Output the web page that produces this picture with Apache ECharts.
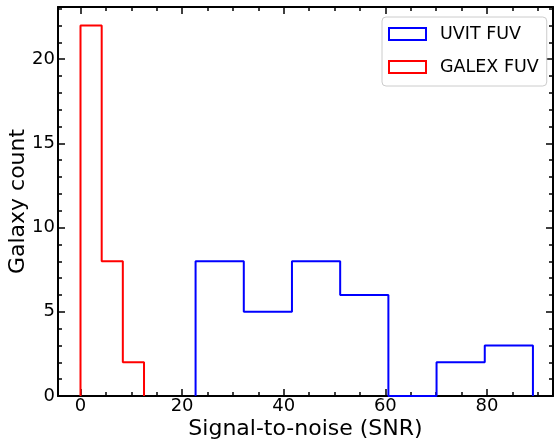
<!DOCTYPE html>
<html><head><meta charset="utf-8">
<script src="https://cdn.jsdelivr.net/npm/echarts@6/dist/echarts.min.js"></script>
<style>html,body{margin:0;padding:0;background:#fff}#c{width:555px;height:444px}</style>
</head><body><div id="c"></div>
<script>
// ---- data ----
const seriesNames = ['UVIT FUV', 'GALEX FUV'];
const uvitEdges = [22.65, 32.14, 41.62, 51.11, 60.60, 70.08, 79.57, 89.05];
const uvitCounts = [8, 5, 8, 6, 0, 2, 3];
const galexEdges = [0, 4.17, 8.33, 12.5];
const galexCounts = [22, 8, 2];
const xMajorTicks = [0, 20, 40, 60, 80];
const xMinorTicks = [0, 5, 10, 15, 20, 25, 30, 35, 40, 45, 50, 55, 60, 65, 70, 75, 80, 85, 90];
const yMajorTicks = [0, 5, 10, 15, 20];
const yMinorTicks = [0,1,2,3,4,5,6,7,8,9,10,11,12,13,14,15,16,17,18,19,20,21,22,23];
const xTitle = 'Signal-to-noise (SNR)';
const yTitle = 'Galaxy count';

// ---- helpers ----
function stepPoints(edges, counts) {
  const pts = [[edges[0], 0]];
  for (let i = 0; i < counts.length; i++) {
    pts.push([edges[i], counts[i]]);
    pts.push([edges[i + 1], counts[i]]);
  }
  pts.push([edges[edges.length - 1], 0]);
  return pts;
}
const FONT = 'DejaVu Sans';
const XMIN = -4.43, XMAX = 93.0, YMIN = 0, YMAX = 23.1;
const lineOn = { show: true, onZero: false, lineStyle: { color: '#000', width: 2 } };
const lineOff = { show: false, onZero: false };

function xAx(pos, ticks, len, major, withLine) {
  return {
    type: 'value', position: pos, min: XMIN, max: XMAX,
    axisLine: withLine ? lineOn : lineOff,
    axisTick: { show: true, inside: true, length: len, customValues: ticks, lineStyle: { color: '#000', width: 1.5 } },
    axisLabel: major && pos === 'bottom'
      ? { show: true, customValues: ticks, fontSize: 18, fontFamily: FONT, color: '#000', margin: 1 }
      : { show: false },
    splitLine: { show: false },
    name: major && pos === 'bottom' ? xTitle : '',
    nameLocation: 'middle', nameGap: 22, nameMoveOverlap: false,
    nameTextStyle: { fontSize: 22, fontFamily: FONT, color: '#000' }
  };
}
function yAx(pos, ticks, len, major, withLine) {
  return {
    type: 'value', position: pos, min: YMIN, max: YMAX,
    axisLine: withLine ? lineOn : lineOff,
    axisTick: { show: true, inside: true, length: len, customValues: ticks, lineStyle: { color: '#000', width: 1.5 } },
    axisLabel: major && pos === 'left'
      ? { show: true, customValues: ticks, fontSize: 18, fontFamily: FONT, color: '#000', margin: 3 }
      : { show: false },
    splitLine: { show: false },
    name: major && pos === 'left' ? yTitle : '',
    nameLocation: 'middle', nameGap: 29, nameRotate: 90, nameMoveOverlap: false,
    nameTextStyle: { fontSize: 22, fontFamily: FONT, color: '#000' }
  };
}

const chart = echarts.init(document.getElementById('c'), null, { renderer: 'canvas' });
chart.setOption({
  animation: false,
  backgroundColor: '#fff',
  grid: { left: 58, right: 2, top: 7, bottom: 48, containLabel: false, outerBoundsMode: 'none' },
  xAxis: [
    xAx('bottom', xMajorTicks, 7, true, true),
    xAx('bottom', xMinorTicks, 4, false, false),
    xAx('top', xMajorTicks, 7, true, true),
    xAx('top', xMinorTicks, 4, false, false)
  ],
  yAxis: [
    yAx('left', yMajorTicks, 7, true, true),
    yAx('left', yMinorTicks, 4, false, false),
    yAx('right', yMajorTicks, 7, true, true),
    yAx('right', yMinorTicks, 4, false, false)
  ],
  legend: {
    orient: 'vertical', left: 382, top: 17,
    icon: 'rect', itemWidth: 37, itemHeight: 12, itemGap: 15,
    padding: [8, 8, 10, 6],
    backgroundColor: 'rgba(255,255,255,0.8)', borderColor: '#cccccc', borderWidth: 1, borderRadius: 4,
    textStyle: { fontSize: 17.5, fontFamily: FONT, color: '#000', lineHeight: 12, padding: [0, 0, 0, 9] },
    data: [
      { name: seriesNames[0], itemStyle: { color: '#ffffff', borderColor: '#0000ff', borderWidth: 2 } },
      { name: seriesNames[1], itemStyle: { color: '#ffffff', borderColor: '#ff0000', borderWidth: 2 } }
    ]
  },
  series: [
    {
      name: seriesNames[0], type: 'line', xAxisIndex: 0, yAxisIndex: 0,
      data: stepPoints(uvitEdges, uvitCounts), showSymbol: false, symbol: 'none',
      lineStyle: { color: '#0000ff', width: 2 }, itemStyle: { color: '#0000ff' }, clip: false
    },
    {
      name: seriesNames[1], type: 'line', xAxisIndex: 0, yAxisIndex: 0,
      data: stepPoints(galexEdges, galexCounts), showSymbol: false, symbol: 'none',
      lineStyle: { color: '#ff0000', width: 2 }, itemStyle: { color: '#ff0000' }, clip: false
    }
  ]
});
</script></body></html>
